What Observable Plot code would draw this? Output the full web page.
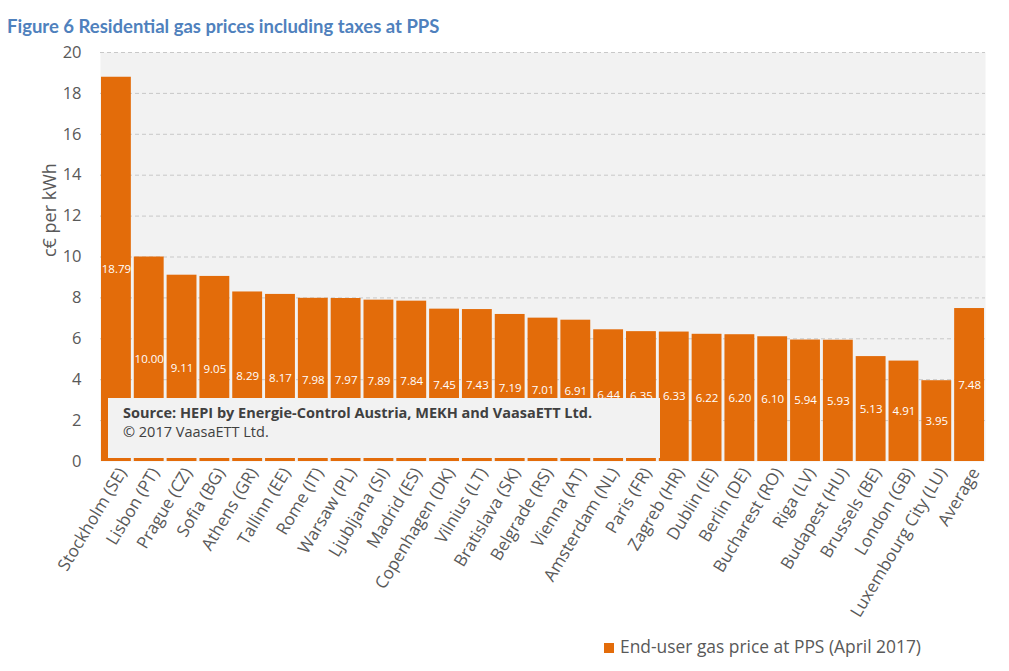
<!DOCTYPE html>
<html><head><meta charset="utf-8">
<script src="https://cdn.jsdelivr.net/npm/d3@7"></script>
<script src="https://cdn.jsdelivr.net/npm/@observablehq/plot@0.6"></script>
<style>
body{margin:0;background:#fff;position:relative;width:1009px;height:671px;overflow:hidden;font-family:"Open Sans",sans-serif;}
#title{height:40px;box-sizing:border-box;padding:16px 0 0 7px;font-family:Lato,sans-serif;font-weight:bold;font-size:18.5px;color:#4F81BD;line-height:20px;}
#source{position:absolute;left:108px;top:398px;width:552px;height:60px;background:#F2F2F2;box-sizing:border-box;padding:5px 0 0 15px;font-size:14.5px;color:#404040;line-height:19px;}
#legend{position:absolute;left:604px;top:636px;font-size:17.4px;color:#595959;line-height:20px;}
#legend span.sw{display:inline-block;width:10px;height:10px;background:#E36C0A;margin-right:6px;vertical-align:0px;}
</style></head>
<body>
<div id="title">Figure 6 Residential gas prices including taxes at PPS</div>
<div id="chart"></div>
<div id="source"><b>Source: HEPI by Energie-Control Austria, MEKH and VaasaETT Ltd.</b><br>© 2017 VaasaETT Ltd.</div>
<div id="legend"><span class="sw"></span>End-user gas price at PPS (April 2017)</div>
<script>
const cities = ["Stockholm (SE)","Lisbon (PT)","Prague (CZ)","Sofia (BG)","Athens (GR)","Tallinn (EE)","Rome (IT)","Warsaw (PL)","Ljubljana (SI)","Madrid (ES)","Copenhagen (DK)","Vilnius (LT)","Bratislava (SK)","Belgrade (RS)","Vienna (AT)","Amsterdam (NL)","Paris (FR)","Zagreb (HR)","Dublin (IE)","Berlin (DE)","Bucharest (RO)","Riga (LV)","Budapest (HU)","Brussels (BE)","London (GB)","Luxembourg City (LU)","Average"];
const prices = [18.79,10.00,9.11,9.05,8.29,8.17,7.98,7.97,7.89,7.84,7.45,7.43,7.19,7.01,6.91,6.44,6.35,6.33,6.22,6.20,6.10,5.94,5.93,5.13,4.91,3.95,7.48];
const yTicks = [0,2,4,6,8,10,12,14,16,18,20];
const gridTicks = [2,4,6,8,10,12,14,16,18,20];

const data = cities.map((c,i)=>({city:c, value:prices[i]}));

const chart = Plot.plot({
  width: 1009,
  height: 600,
  marginTop: 12,
  marginBottom: 179,
  marginLeft: 100,
  marginRight: 24,
  style: {fontFamily: "'Open Sans', sans-serif", color: "#595959", background: "transparent"},
  x: {domain: cities, paddingInner: 0.09, paddingOuter: 0.03, round: false, label: null},
  y: {domain: [0,20], label: null},
  marks: [
    Plot.frame({fill: "#F2F2F2", stroke: null}),
    Plot.ruleY(gridTicks, {stroke: "#C8C8C8", strokeDasharray: "4,3", strokeWidth: 1}),
    Plot.barY(data, {x: "city", y: "value", fill: "#E36C0A"}),
    Plot.text(data, {x: "city", y: d => d.value/2, text: d => d.value.toFixed(2), fill: "white", fontSize: 11.5}),
    Plot.axisY({ticks: yTicks, tickSize: 0, tickPadding: 19, fontSize: 16.5, label: null}),
    Plot.axisX({tickSize: 0, tickPadding: 8, dx: 6, tickRotate: -59, fontSize: 17, label: null}),
    Plot.text(["c€ per kWh"], {frameAnchor: "left", dx: -50, rotate: -90, fontSize: 18, fill: "#595959"})
  ]
});
document.getElementById("chart").appendChild(chart);
</script>
</body></html>
